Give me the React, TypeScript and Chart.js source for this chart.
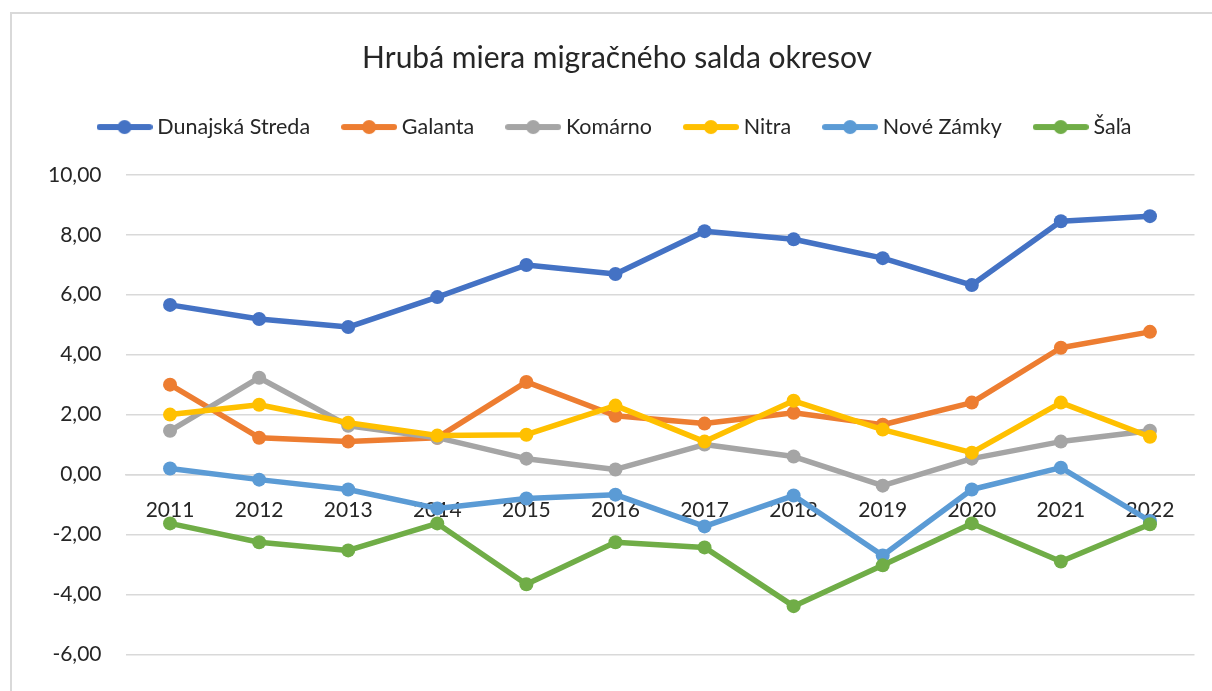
import React, { useEffect, useRef } from 'react';
import { Chart, registerables } from 'chart.js';

Chart.register(...registerables);

const categories = ['2011', '2012', '2013', '2014', '2015', '2016', '2017', '2018', '2019', '2020', '2021', '2022'];

const dunajskaStreda = [5.66, 5.19, 4.92, 5.92, 6.99, 6.69, 8.12, 7.85, 7.22, 6.32, 8.45, 8.62];
const galanta = [3.0, 1.23, 1.1, 1.23, 3.09, 1.96, 1.7, 2.06, 1.66, 2.4, 4.23, 4.76];
const komarno = [1.46, 3.23, 1.63, 1.23, 0.53, 0.17, 1.0, 0.6, -0.37, 0.53, 1.1, 1.46];
const nitra = [2.0, 2.33, 1.73, 1.3, 1.33, 2.3, 1.1, 2.46, 1.5, 0.73, 2.4, 1.26];
const noveZamky = [0.2, -0.17, -0.5, -1.13, -0.8, -0.67, -1.73, -0.7, -2.7, -0.5, 0.23, -1.55];
const sala = [-1.63, -2.26, -2.53, -1.63, -3.66, -2.26, -2.43, -4.39, -3.03, -1.63, -2.9, -1.66];

const seriesNames = ['Dunajská Streda', 'Galanta', 'Komárno', 'Nitra', 'Nové Zámky', 'Šaľa'];
const seriesColors = ['#4472C4', '#ED7D31', '#A5A5A5', '#FFC000', '#5B9BD5', '#70AD47'];
const seriesValues = [dunajskaStreda, galanta, komarno, nitra, noveZamky, sala];

const yMin = -6;
const yMax = 10;
const yStep = 2;

const chartTitle = 'Hrubá miera migračného salda okresov';

const FONT = 'Lato, "Noto Sans", sans-serif';
const TEXT = '#262626';
const GRID = '#d9d9d9';

function makeLegendIcon(color: string): HTMLCanvasElement {
  const c = document.createElement('canvas');
  c.width = 56;
  c.height = 16;
  const ctx = c.getContext('2d')!;
  ctx.strokeStyle = color;
  ctx.lineWidth = 6;
  ctx.lineCap = 'round';
  ctx.beginPath();
  ctx.moveTo(3, 8);
  ctx.lineTo(53, 8);
  ctx.stroke();
  ctx.fillStyle = color;
  ctx.beginPath();
  ctx.arc(28, 8, 7, 0, Math.PI * 2);
  ctx.fill();
  return c;
}

export default function App() {
  const canvasRef = useRef<HTMLCanvasElement | null>(null);

  useEffect(() => {
    const canvas = canvasRef.current;
    if (!canvas) return;
    const icons = seriesColors.map(makeLegendIcon);

    const legendSpacer = {
      id: 'legendSpacer',
      afterInit(chart: any) {
        const lg = chart.legend;
        if (lg && !lg._patched) {
          const orig = lg.fit;
          lg.fit = function (this: any) {
            orig.call(this);
            this.height += 27;
          };
          lg._patched = true;
        }
      },
    };

    const chart = new Chart(canvas, {
      type: 'line',
      data: {
        labels: categories,
        datasets: seriesNames.map((name, i) => ({
          label: name,
          data: seriesValues[i],
          borderColor: seriesColors[i],
          backgroundColor: seriesColors[i],
          borderWidth: 5.5,
          pointRadius: 7,
          pointBorderWidth: 0,
          pointBackgroundColor: seriesColors[i],
          borderJoinStyle: 'round',
          borderCapStyle: 'round',
          tension: 0,
          fill: false,
          order: seriesNames.length - i,
        })),
      },
      options: {
        responsive: false,
        animation: false,
        devicePixelRatio: 1,
        layout: { padding: { left: 39.5, right: 17.5, top: 0, bottom: 34 } },
        plugins: {
          tooltip: { enabled: false },
          title: {
            display: true,
            text: chartTitle,
            color: TEXT,
            font: { family: FONT, size: 30, weight: 'normal' },
            padding: { top: 40, bottom: 3.3 },
          },
          legend: {
            display: true,
            position: 'top',
            labels: {
              usePointStyle: true,
              pointStyleWidth: 44,
              padding: 37,
              color: TEXT,
              font: { family: FONT, size: 21.5 },
              generateLabels: (ch: any) =>
                ch.data.datasets.map((ds: any, i: number) => ({
                  text: ds.label,
                  fillStyle: seriesColors[i],
                  strokeStyle: seriesColors[i],
                  lineWidth: 0,
                  pointStyle: icons[i],
                  hidden: false,
                  datasetIndex: i,
                  fontColor: TEXT,
                })),
            },
          },
        },
        scales: {
          x: {
            type: 'category',
            position: { y: 0 } as any,
            offset: true,
            grid: { display: false, drawTicks: false },
            border: { display: true, color: GRID, width: 1.5 },
            ticks: {
              color: TEXT,
              font: { family: FONT, size: 21 },
              padding: 23,
              maxRotation: 0,
              autoSkip: false,
            },
          },
          y: {
            type: 'linear',
            min: yMin,
            max: yMax,
            grid: { color: GRID, lineWidth: 1.5, drawTicks: false },
            border: { display: false },
            afterFit: (scale: any) => {
              scale.width = 86;
            },
            ticks: {
              stepSize: yStep,
              color: TEXT,
              padding: 24,
              font: { family: FONT, size: 21 },
              callback: (v: any) => Number(v).toFixed(2).replace('.', ','),
            },
          },
        },
      },
      plugins: [legendSpacer],
    } as any);

    return () => {
      chart.destroy();
    };
  }, []);

  return (
    <div
      style={{
        position: 'fixed',
        left: 0,
        top: 0,
        width: 1212,
        height: 691,
        overflow: 'hidden',
        background: '#ffffff',
      }}
    >
      <div
        style={{
          position: 'absolute',
          left: 10,
          top: 12,
          width: 1300,
          height: 800,
          border: '2px solid #d9d9d9',
          boxSizing: 'border-box',
        }}
      />
      <canvas
        ref={canvasRef}
        width={1212}
        height={691}
        style={{ position: 'absolute', left: 0, top: 0, width: 1212, height: 691 }}
      />
    </div>
  );
}
